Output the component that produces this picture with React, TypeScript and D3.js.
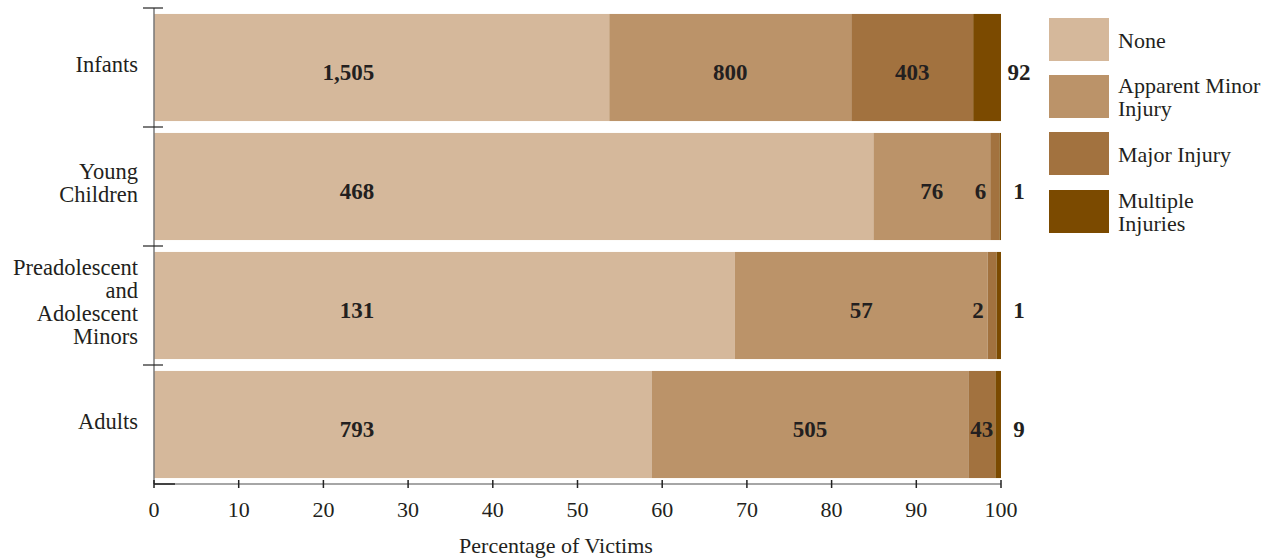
import React from "react";
import * as d3 from "d3";

const categories = ["Infants", "Young Children", "Preadolescent and Adolescent Minors", "Adults"];
const categoryLines = [["Infants"], ["Young", "Children"], ["Preadolescent", "and", "Adolescent", "Minors"], ["Adults"]];
const seriesNames = ["None", "Apparent Minor Injury", "Major Injury", "Multiple Injuries"];
const legendLines = [["None"], ["Apparent Minor", "Injury"], ["Major Injury"], ["Multiple", "Injuries"]];
const noneValues = [1505, 468, 131, 793];
const minorValues = [800, 76, 57, 505];
const majorValues = [403, 6, 2, 43];
const multipleValues = [92, 1, 1, 9];
const xTicks = [0, 10, 20, 30, 40, 50, 60, 70, 80, 90, 100];
const colors = ["#d5b89b", "#bb9369", "#a2723f", "#7b4a00"];

const W = 1279, H = 560;
const M = { left: 154, right: 1001, top: 8, bottom: 484 };
const FONT = "Liberation Serif, Tinos, Times New Roman, Times, Nimbus Roman, serif";
const TXT = "#231f20";

export default function App() {
  const x = d3.scaleLinear().domain([0, 100]).range([M.left, M.right]);
  const y = d3.scaleBand().domain(categories).range([M.top, M.bottom]).paddingInner(0.1).paddingOuter(0.05);
  const series = [noneValues, minorValues, majorValues, multipleValues];

  const rows = categories.map((c, i) => {
    const vals = series.map(s => s[i]);
    const total = d3.sum(vals);
    let cum = 0;
    return vals.map((v, k) => {
      const p0 = cum;
      cum += (v / total) * 100;
      return { k, v, p0, p1: cum };
    });
  });

  const fmt = d3.format(",");
  const step = y.step();
  const bandTicks = d3.range(categories.length + 1).map(i => M.top + i * step);

  return (
    <svg width={W} height={H} style={{ position: "absolute", left: 0, top: 0, background: "#fff", fontFamily: FONT }}>
      {rows.map((segs, i) => {
        const y0 = y(categories[i])!;
        const bh = y.bandwidth();
        const cy = y0 + bh / 2;
        return (
          <g key={i}>
            {segs.map(s => (
              <rect key={s.k} x={x(s.p0)} y={y0} width={x(s.p1) - x(s.p0)} height={bh} fill={colors[s.k]} />
            ))}
            {segs.map(s => {
              const x0 = x(s.p0), x1 = x(s.p1);
              let tx = (x0 + x1) / 2;
              let anchor: "middle" | "end" | "start" = "middle";
              if (s.k === 0) { tx = x(26); anchor = "end"; }
              else if (s.k === 3) { tx = 1019; }
              else if (x1 - x0 < 20) { tx = x0 - 4; anchor = "end"; }
              return (
                <text key={"t" + s.k} x={tx} y={cy + 12} textAnchor={anchor} fontSize={23} fontWeight="bold" fill={TXT}>
                  {fmt(s.v)}
                </text>
              );
            })}
            {categoryLines[i].map((ln, j) => {
              const n = categoryLines[i].length;
              const lh = 23;
              const by = cy - ((n - 1) * lh) / 2 + 4;
              return (
                <text key={"c" + j} x={138} y={by + j * lh} textAnchor="end" fontSize={22.5} fill={TXT}>{ln}</text>
              );
            })}
          </g>
        );
      })}

      {/* y axis */}
      <line x1={M.left} x2={M.left} y1={M.top} y2={M.bottom} stroke="#777" strokeWidth={1.5} />
      {bandTicks.slice(0, -1).map((t, i) => (
        <line key={i} x1={143} x2={163} y1={t} y2={t} stroke="#222" strokeWidth={1.2} />
      ))}
      {/* x axis */}
      <line x1={M.left} x2={M.right} y1={M.bottom} y2={M.bottom} stroke="#888" strokeWidth={1.5} />
      <line x1={M.left} x2={175} y1={M.bottom} y2={M.bottom} stroke="#222" strokeWidth={1.5} />
      {xTicks.map(t => (
        <g key={t}>
          <line x1={x(t)} x2={x(t)} y1={M.bottom - 4} y2={M.bottom + 4} stroke="#222" strokeWidth={1.5} />
          <text x={x(t)} y={517} textAnchor="middle" fontSize={22} fill={TXT}>{t}</text>
        </g>
      ))}
      <text x={556} y={553} textAnchor="middle" fontSize={22} fill={TXT}>Percentage of Victims</text>

      {/* legend */}
      {seriesNames.map((n, k) => {
        const sy = [18, 75, 132, 190][k];
        const sh = 43;
        const lines = legendLines[k];
        const lh = 22.5;
        const cy = sy + sh / 2;
        const by = cy - ((lines.length - 1) * lh) / 2 + 8;
        return (
          <g key={n}>
            <rect x={1049} y={sy} width={60} height={sh} fill={colors[k]} />
            {lines.map((ln, j) => (
              <text key={j} x={1118} y={by + j * lh} fontSize={22} fill={TXT}>{ln}</text>
            ))}
          </g>
        );
      })}
    </svg>
  );
}
